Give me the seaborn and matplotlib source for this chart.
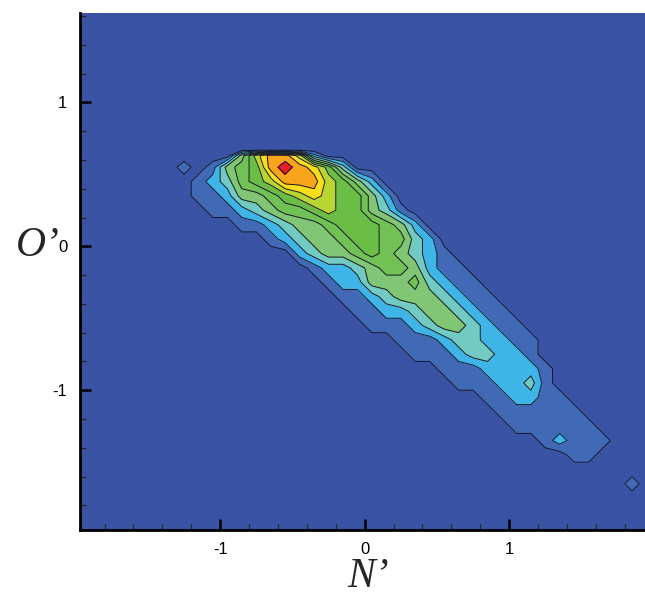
"""Joint PDF of N' and O' drawn as filled contours (Tecplot-like look)."""

import numpy as np
import matplotlib
matplotlib.use("Agg")
import matplotlib.pyplot as plt
from matplotlib.ticker import MultipleLocator
import seaborn as sns

N_GRID = np.round(np.linspace(-1.35, 1.95, 34), 2)
O_GRID = [0.67, 0.63, 0.55, 0.45, 0.35, 0.25, 0.15, 0.05, -0.05, -0.15,
          -0.25, -0.35, -0.45, -0.55, -0.65, -0.75, -0.85, -0.95, -1.05,
          -1.15, -1.25, -1.35, -1.45, -1.55, -1.65, -1.75, -1.85]

# Contour level per grid row: (first column, level digits), hex digit 'a' = 10
LEVEL_ROWS = [
    (0, ""),
    (5, "479972"),
    (1, "1014569a9863"),
    (2, "1235679997642"),
    (2, "11244567876642"),
    (3, "11234556766431"),
    (5, "1123445666542"),
    (7, "123445665532"),
    (9, "23445654321"),
    (10, "12234554211"),
    (11, "12244453211"),
    (12, "11234443211"),
    (13, "11223443211"),
    (14, "11123443211"),
    (16, "1112332211"),
    (17, "111233221"),
    (19, "11122221"),
    (20, "1112231"),
    (22, "112211"),
    (23, "111111"),
    (24, "111111"),
    (26, "12111"),
    (28, "11"),
    (0, ""),
    (32, "1"),
    (0, ""),
    (0, ""),
]

LEVEL_COLORS = [
    "#3A53A4",  # background
    "#4269B6",
    "#3FB4E6",
    "#72CBC3",
    "#80C674",
    "#72C155",
    "#6ABD45",
    "#B9D532",
    "#F6DE1A",
    "#F9A51B",
    "#EC1C24",
]

X_TICKS = [-1, 0, 1]
Y_TICKS = [-1, 0, 1]

sns.set_style("ticks")
plt.rcParams["font.family"] = ["Liberation Sans", "DejaVu Sans"]
plt.rcParams["axes.unicode_minus"] = False

n_cols = len(N_GRID)
z = np.array([[int(c, 16) for c in ("0" * start + digits).ljust(n_cols, "0")]
              for start, digits in LEVEL_ROWS], dtype=float)

fig = plt.figure(figsize=(6.45, 5.96), dpi=100)
ax = fig.add_axes([0.124, 0.111, 0.876, 0.867])
ax.set_facecolor(LEVEL_COLORS[0])

bounds = np.arange(-0.5, len(LEVEL_COLORS), 1.0)
ax.contourf(N_GRID, O_GRID, z, levels=bounds, colors=LEVEL_COLORS)
ax.contour(N_GRID, O_GRID, z, levels=bounds[1:-1], colors="#16182c",
           linewidths=0.7)

ax.set_xlim(-1.97, 1.94)
ax.set_ylim(-1.97, 1.62)
ax.set_xticks(X_TICKS)
ax.set_yticks(Y_TICKS)
ax.xaxis.set_minor_locator(MultipleLocator(0.2))
ax.yaxis.set_minor_locator(MultipleLocator(0.2))
ax.tick_params(which="major", direction="in", length=8, width=1.8,
               labelsize=12, pad=9, colors="black")
ax.tick_params(which="minor", direction="in", length=4, width=0.9)

sns.despine(ax=ax)
for side in ("left", "bottom"):
    ax.spines[side].set_linewidth(2.0)
    ax.spines[side].set_color("black")

label_font = dict(family=["Liberation Serif"], style="italic", size=30)
ax.set_xlabel("N\u2019", va="center", ha="center", **label_font)
ax.xaxis.set_label_coords(0.51, -0.09)
ax.set_ylabel("O\u2019", rotation=0, va="center", ha="right", **label_font)
ax.yaxis.set_label_coords(-0.036, 0.549)

fig.savefig("out.png", dpi=100)
